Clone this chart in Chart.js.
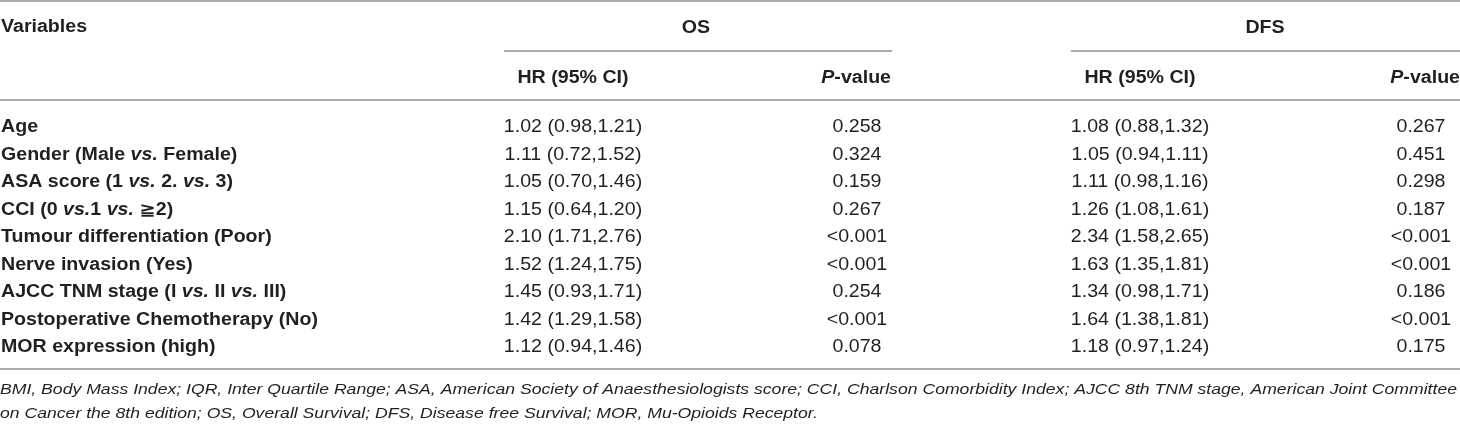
<!DOCTYPE html>
<html lang="en">
<head>
<meta charset="UTF-8">
<title>Cox regression: OS and DFS</title>
<script src="https://cdn.jsdelivr.net/npm/chart.js"></script>
<style>
  html, body { margin: 0; padding: 0; background: #fff; }
  #wrap { width: 1460px; height: 426px; position: relative; }
</style>
</head>
<body>
<div id="wrap"><canvas id="tbl"></canvas></div>
<script>
// table content (*...* marks italic runs)
const variables = [
  'Age',
  'Gender (Male *vs.* Female)',
  'ASA score (1 *vs.* 2. *vs.* 3)',
  'CCI (0 *vs.*1 *vs.* \u22672)',
  'Tumour differentiation (Poor)',
  'Nerve invasion (Yes)',
  'AJCC TNM stage (I *vs.* II *vs.* III)',
  'Postoperative Chemotherapy (No)',
  'MOR expression (high)'
];
const osHR = ['1.02 (0.98,1.21)', '1.11 (0.72,1.52)', '1.05 (0.70,1.46)', '1.15 (0.64,1.20)',
  '2.10 (1.71,2.76)', '1.52 (1.24,1.75)', '1.45 (0.93,1.71)', '1.42 (1.29,1.58)', '1.12 (0.94,1.46)'];
const osP = ['0.258', '0.324', '0.159', '0.267', '<0.001', '<0.001', '0.254', '<0.001', '0.078'];
const dfsHR = ['1.08 (0.88,1.32)', '1.05 (0.94,1.11)', '1.11 (0.98,1.16)', '1.26 (1.08,1.61)',
  '2.34 (1.58,2.65)', '1.63 (1.35,1.81)', '1.34 (0.98,1.71)', '1.64 (1.38,1.81)', '1.18 (0.97,1.24)'];
const dfsP = ['0.267', '0.451', '0.298', '0.187', '<0.001', '<0.001', '0.186', '<0.001', '0.175'];
const groupHeaders = ['OS', 'DFS'];
const colHeaders = ['HR (95% CI)', '*P*-value'];
const cornerHeader = 'Variables';
const footnote = [
  'BMI, Body Mass Index; IQR, Inter Quartile Range; ASA, American Society of Anaesthesiologists score; CCI, Charlson Comorbidity Index; AJCC 8th TNM stage, American Joint Committee',
  'on Cancer the 8th edition; OS, Overall Survival; DFS, Disease free Survival; MOR, Mu-Opioids Receptor.'
];

// layout (pixels along the x axis, offsets from the chart area)
const FONT = '"Liberation Sans", Arial, "DejaVu Sans", sans-serif';
const SIZE = 17.5;
const SX = 1.12;          // horizontal stretch of the glyphs
const INK = '#231f20';
const RULE = '#8f8f8f';
const cols = {
  variable: { x: 1, align: 'left' },
  osHR: { x: 573, align: 'center' },
  osP: { x: 857, align: 'center' },
  dfsHR: { x: 1140, align: 'center' },
  dfsP: { x: 1421, align: 'center' }
};
const groups = [{ from: 504, to: 892 }, { from: 1071, to: 1460 }];
const headerP = [891, 1460];

function segs(str) {
  return str.split('*').map((t, i) => ({ t, it: i % 2 === 1 })).filter(s => s.t.length);
}

function font(bold, it, size) {
  return (it ? 'italic ' : '') + (bold ? 'bold ' : '') + size + 'px ' + FONT;
}

function drawRich(ctx, str, x, yc, align, opt) {
  const size = opt.size || SIZE, sx = opt.sx || SX, bold = !!opt.bold;
  const parts = segs(str);
  let w = 0;
  parts.forEach(p => { ctx.font = font(bold, p.it || opt.italic, size); p.w = ctx.measureText(p.t).width; w += p.w; });
  let start = x / sx;
  if (align === 'center') start -= w / 2;
  if (align === 'right') start -= w;
  ctx.save();
  ctx.scale(sx, 1);
  ctx.fillStyle = INK;
  ctx.textBaseline = 'alphabetic';
  ctx.textAlign = 'left';
  const base = yc + size * 0.716 / 2;
  parts.forEach(p => {
    ctx.font = font(bold, p.it || opt.italic, size);
    ctx.fillText(p.t, start, base);
    start += p.w;
  });
  ctx.restore();
}

function rule(ctx, x0, x1, y) {
  ctx.save();
  ctx.strokeStyle = RULE;
  ctx.lineWidth = 1.5;
  ctx.beginPath();
  ctx.moveTo(x0, y);
  ctx.lineTo(x1, y);
  ctx.stroke();
  ctx.restore();
}

const cellColumns = [
  { key: 'variable', values: variables, bold: true },
  { key: 'osHR', values: osHR },
  { key: 'osP', values: osP },
  { key: 'dfsHR', values: dfsHR },
  { key: 'dfsP', values: dfsP }
];

const tablePlugin = {
  id: 'tablePlugin',
  afterDatasetsDraw(chart) {
    const ctx = chart.ctx;
    const area = chart.chartArea;
    const xs = chart.scales.x;
    const W = chart.width;

    // body cells, placed on the scatter points
    chart.data.datasets.forEach((ds, di) => {
      const col = cellColumns[di];
      const meta = chart.getDatasetMeta(di);
      meta.data.forEach((el, i) => {
        drawRich(ctx, col.values[i], el.x, el.y, cols[col.key].align, { bold: col.bold });
      });
    });

    // headers, relative to the chart area top
    const top = area.top;
    rule(ctx, 0, W, top - 111);
    drawRich(ctx, cornerHeader, xs.getPixelForValue(cols.variable.x), top - 86, 'left', { bold: true });
    groups.forEach((g, gi) => {
      const a = xs.getPixelForValue(g.from), b = xs.getPixelForValue(g.to);
      drawRich(ctx, groupHeaders[gi], xs.getPixelForValue(gi ? 1265 : 696), top - 85, 'center', { bold: true });
      rule(ctx, a, b, top - 61);
      const hrX = xs.getPixelForValue(gi ? cols.dfsHR.x : cols.osHR.x);
      drawRich(ctx, colHeaders[0], hrX, top - 35, 'center', { bold: true });
      drawRich(ctx, colHeaders[1], xs.getPixelForValue(headerP[gi]), top - 35, 'right', { bold: true });
    });
    rule(ctx, 0, W, top - 12);

    // bottom rule and footnote
    const bottom = area.bottom;
    rule(ctx, 0, W, bottom + 9);
    const fSize = 15;
    ctx.font = font(false, true, fSize);
    const fsx = 1457 / ctx.measureText(footnote[0]).width;
    footnote.forEach((line, i) => {
      drawRich(ctx, line, 0, bottom + 29 + i * 24, 'left', { size: fSize, sx: fsx, italic: true });
    });
  }
};

new Chart(document.getElementById('tbl'), {
  type: 'scatter',
  data: {
    datasets: cellColumns.map(col => ({
      label: col.key,
      data: variables.map(v => ({ x: cols[col.key].x, y: v })),
      pointRadius: 0,
      pointHoverRadius: 0,
      showLine: false
    }))
  },
  options: {
    responsive: true,
    maintainAspectRatio: false,
    animation: false,
    events: [],
    layout: { padding: { top: 112, bottom: 66, left: 0, right: 0 } },
    plugins: { legend: { display: false }, tooltip: { enabled: false } },
    scales: {
      x: { type: 'linear', min: 0, max: 1460, display: false },
      y: { type: 'category', labels: variables, offset: true, display: false }
    }
  },
  plugins: [tablePlugin]
});
</script>
</body>
</html>
